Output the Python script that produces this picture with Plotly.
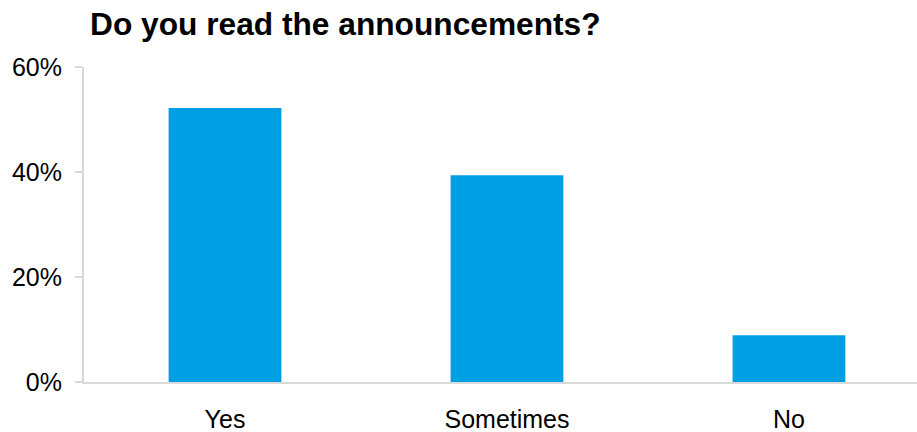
import plotly.graph_objects as go

categories = ["Yes", "Sometimes", "No"]
shares = [52.2, 39.4, 8.9]  # percent of respondents
y_ticks = [0, 20, 40, 60]
y_tick_labels = ["0%", "20%", "40%", "60%"]

fig = go.Figure(
    go.Bar(
        x=categories,
        y=shares,
        width=0.4,
        marker=dict(color="#009FE3", line=dict(width=0)),
    )
)

axis_font = dict(family="Liberation Sans, Arial, sans-serif", size=25, color="#000000")

fig.update_layout(
    width=917,
    height=432,
    margin=dict(l=84, r=0, t=67, b=50),
    paper_bgcolor="white",
    plot_bgcolor="white",
    showlegend=False,
    title=dict(
        text="<b>Do you read the announcements?</b>",
        x=90 / 917,
        xanchor="left",
        y=1 - 24 / 432,
        yanchor="middle",
        font=dict(family="Liberation Sans, Arial, sans-serif", size=31.7, color="#000000"),
    ),
    xaxis=dict(
        range=[-0.5, 2.454],
        showgrid=False,
        showline=True,
        linecolor="#d9d9d9",
        linewidth=2,
        ticks="",
        tickfont=axis_font,
        ticklabelstandoff=14,
    ),
    yaxis=dict(
        range=[0, 60],
        tickvals=y_ticks,
        ticktext=y_tick_labels,
        showgrid=False,
        zeroline=False,
        showline=True,
        linecolor="#d9d9d9",
        linewidth=2,
        ticks="outside",
        ticklen=7,
        tickcolor="#d9d9d9",
        tickwidth=2,
        tickfont=axis_font,
        ticklabelstandoff=8,
    ),
)

fig.write_html("out.html")
